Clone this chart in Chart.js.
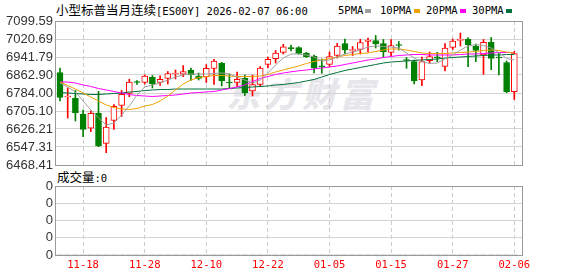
<!DOCTYPE html>
<html>
<head>
<meta charset="utf-8">
<script src="https://cdn.jsdelivr.net/npm/chart.js@4.4.1/dist/chart.umd.min.js"></script>
<style>
  body { margin:0; background:#fff; width:578px; height:276px; overflow:hidden; position:relative; }
  .abs  { position:absolute; white-space:nowrap; }
  .cn   { font-family:"Noto Sans CJK SC"; font-size:12.5px; }
  .mono { font-family:"DejaVu Sans Mono"; font-size:10.5px; }
  #title { left:56px; top:1px; line-height:18px; color:#000; }
  #voltitle { left:57px; top:168px; line-height:18px; color:#000; }
  .lg { top:1px; line-height:18px; color:#000; }
  .sq { display:inline-block; width:6px; height:4px; margin-left:2px; vertical-align:1px; }
  #wm { left:226px; top:68px; font-family:"Noto Sans CJK SC"; font-weight:900; font-size:34px;
        color:#e7e7eb; letter-spacing:4px; font-style:italic; }
  canvas { position:absolute; left:0; }
</style>
</head>
<body>
<div id="wm" class="abs">东方财富</div>
<div id="title" class="abs"><span class="cn">小型标普当月连续</span><span class="mono">[ES00Y] 2026-02-07 06:00</span></div>
<div id="legend"></div>
<div id="voltitle" class="abs"><span class="cn">成交量</span><span class="mono">:0</span></div>
<canvas id="cMain" width="578" height="180" style="top:0"></canvas>
<canvas id="cVol" width="578" height="100" style="top:176px"></canvas>

<script>
/* ── Datos ── */
const dates = ["11-13","11-14","11-17","11-18","11-19","11-20","11-21","11-24","11-25","11-26",
  "11-27","11-28","12-01","12-02","12-03","12-04","12-05","12-08","12-09","12-10",
  "12-11","12-12","12-15","12-16","12-17","12-18","12-19","12-22","12-23","12-24",
  "12-26","12-29","12-30","12-31","01-02","01-05","01-06","01-07","01-08","01-09",
  "01-12","01-13","01-14","01-15","01-16","01-19","01-20","01-21","01-22","01-23",
  "01-26","01-27","01-28","01-29","01-30","02-02","02-03","02-04","02-05","02-06"];

const open = [6873.9,6766.5,6760.8,6692.0,6629.3,6696.3,6563.5,6664.3,6729.2,6782.7,
  6832.2,6830.9,6852.8,6830.0,6848.4,6867.3,6866.0,6884.8,6858.5,6855.5,
  6891.4,6914.2,6832.2,6830.0,6848.4,6792.8,6822.1,6908.9,6934.3,6962.4,
  6979.9,6982.6,6958.0,6946.2,6900.2,6909.8,6948.4,7001.0,6969.0,6975.5,
  7009.7,7014.1,7000.1,6961.5,6994.4,6928.6,6921.2,6841.0,6925.6,6941.8,
  6901.0,6984.3,7014.1,7019.4,6990.0,6950.6,7006.2,6938.7,6916.8,6789.7];

const high = [6893.6,6805.9,6795.0,6709.5,6705.1,6791.5,6676.6,6733.6,6795.0,6844.1,
  6838.8,6862.9,6860.7,6859.8,6878.2,6884.8,6904.5,6893.6,6871.7,6908.1,
  6931.7,6918.6,6867.3,6876.1,6862.9,6862.9,6900.2,6941.8,6970.3,6997.5,
  6994.4,6986.9,6962.4,6950.6,6933.0,6963.7,7001.0,7020.7,6987.8,7019.4,
  7025.1,7036.0,7018.5,7018.5,7009.7,6939.6,6928.6,6941.8,6963.7,6962.4,
  7001.0,7020.7,7047.0,7027.3,6998.8,7018.5,7027.3,6959.3,6924.3,6965.9];

const low = [6748.9,6674.4,6661.3,6592.5,6614.4,6548.6,6522.3,6624.9,6681.0,6767.8,
  6821.3,6823.5,6805.9,6816.9,6823.5,6845.4,6855.5,6838.8,6841.0,6830.0,
  6821.3,6814.7,6803.7,6812.5,6773.0,6770.9,6812.5,6893.6,6915.5,6955.0,
  6968.1,6953.6,6939.6,6871.7,6870.4,6898.0,6937.4,6955.0,6948.4,6955.0,
  6963.7,6981.2,6939.6,6946.2,6972.5,6892.3,6823.5,6816.0,6915.5,6921.2,
  6881.3,6974.7,6990.0,6899.3,6921.2,6866.0,6886.1,6862.9,6785.3,6755.5];

const close = [6764.3,6770.9,6696.3,6624.9,6695.0,6551.7,6635.0,6725.7,6778.3,6832.2,
  6830.0,6858.5,6823.5,6844.1,6869.5,6868.6,6877.4,6862.9,6847.6,6892.3,
  6924.3,6836.6,6827.8,6844.1,6784.0,6821.3,6893.6,6931.7,6959.3,6986.9,
  6978.2,6958.0,6943.1,6893.6,6898.8,6943.1,6990.0,6972.5,6974.7,7005.4,
  7016.3,6998.8,6965.0,6992.2,6992.2,6926.5,6836.6,6921.2,6943.1,6938.7,
  6981.2,7011.9,7019.4,6994.4,6970.3,7006.2,6936.1,6937.4,6789.7,6957.1];

const ma5 = [6827.8,6810.3,6788.4,6748.9,6709.5,6674.4,6643.7,6652.5,6687.6,6727.0,
  6775.2,6810.3,6819.1,6827.8,6841.0,6854.1,6862.9,6867.3,6867.3,6867.3,
  6869.5,6871.7,6867.3,6854.1,6841.0,6827.8,6841.0,6871.7,6906.7,6937.4,
  6955.0,6955.0,6950.6,6941.8,6924.3,6928.6,6941.8,6955.0,6963.7,6972.5,
  6985.6,6990.0,6987.8,6985.6,6981.2,6959.3,6937.4,6922.1,6913.3,6915.5,
  6933.0,6950.6,6972.5,6990.0,6996.6,6992.2,6981.2,6961.5,6935.2,6928.6];

const ma10 = [6832.2,6816.9,6801.5,6784.0,6766.5,6748.9,6731.4,6720.5,6713.9,6711.7,
  6716.1,6727.0,6733.6,6748.9,6770.9,6797.1,6823.5,6841.0,6851.9,6856.3,
  6860.7,6860.7,6858.5,6856.3,6856.3,6856.3,6858.5,6865.1,6876.1,6884.8,
  6893.6,6902.4,6913.3,6922.1,6928.6,6935.2,6941.8,6948.4,6952.8,6957.1,
  6959.3,6965.9,6972.5,6976.9,6976.9,6972.5,6965.9,6959.3,6957.1,6957.1,
  6957.1,6959.3,6961.5,6963.7,6965.9,6970.3,6972.5,6970.3,6963.7,6959.3];

const ma20 = [6832.2,6832.2,6827.8,6819.1,6812.5,6803.7,6797.1,6790.6,6784.0,6777.4,
  6773.0,6770.9,6768.7,6770.9,6773.0,6775.2,6779.6,6784.0,6786.2,6788.4,
  6790.6,6797.1,6803.7,6810.3,6819.1,6834.4,6847.6,6856.3,6865.1,6871.7,
  6876.9,6881.3,6884.8,6889.2,6893.6,6898.0,6902.4,6908.9,6915.5,6922.1,
  6928.6,6933.0,6939.6,6944.0,6948.4,6950.6,6952.8,6952.8,6950.6,6950.6,
  6950.6,6950.6,6952.8,6955.0,6955.0,6957.1,6959.3,6961.5,6961.5,6961.5];

const ma30 = [6786.2,6784.0,6781.8,6779.6,6777.4,6777.4,6779.6,6781.8,6784.0,6788.4,
  6790.6,6795.0,6797.1,6799.3,6799.3,6801.5,6801.5,6801.5,6801.5,6801.5,
  6801.5,6801.5,6803.7,6805.9,6808.1,6810.3,6812.5,6814.7,6819.1,6821.3,
  6825.6,6830.0,6836.6,6843.2,6854.1,6865.1,6873.9,6882.6,6889.2,6895.8,
  6902.4,6908.9,6915.5,6919.9,6922.1,6924.3,6926.5,6928.6,6930.8,6933.0,
  6937.4,6939.6,6941.8,6944.0,6946.2,6948.4,6950.6,6950.6,6952.8,6952.8];

const volume = [0,0,0,0,0,0,0,0,0,0, 0,0,0,0,0,0,0,0,0,0, 0,0,0,0,0,0,0,0,0,0,
  0,0,0,0,0,0,0,0,0,0, 0,0,0,0,0,0,0,0,0,0, 0,0,0,0,0,0,0,0,0,0];

const yTicks   = [6468.41,6547.31,6626.21,6705.10,6784.00,6862.90,6941.79,7020.69,7099.59];
const volTicks = ["0","0","0","0","0"];
const xTicks   = ["11-18","11-28","12-10","12-22","01-05","01-15","01-27","02-06"];

const maNames  = ["5PMA","10PMA","20PMA","30PMA"];
const maColors = ["#a0a0a0","#f0a000","#ff00ff","#00703c"];
const maLeft   = [338, 380, 426, 472];

/* ── Estilo ── */
const RED = "#ff0000", GREEN = "#008000";
Chart.defaults.font.family = "'Liberation Sans', Arial, sans-serif";

const tickIdx = xTicks.map(t => dates.indexOf(t));
const up = close.map((c, i) => c >= open[i]);
const pts = arr => arr.map((v, i) => ({ x: i, y: v }));

/* ── Leyenda HTML ── */
maNames.forEach((n, k) => {
  const d = document.createElement("div");
  d.className = "abs lg mono";
  d.style.left = maLeft[k] + "px";
  d.innerHTML = `${n}<span class="sq" style="background:${maColors[k]}"></span>`;
  document.getElementById("legend").appendChild(d);
});

/* ── Marco gris alrededor del área ── */
const frame = {
  id: "frame",
  afterDraw(chart) {
    const a = chart.chartArea, c = chart.ctx;
    c.save();
    c.strokeStyle = "#999";
    c.lineWidth = 1;
    c.strokeRect(a.left + 0.5, a.top + 0.5, a.right - a.left, a.bottom - a.top);
    c.restore();
  }
};

function xScale(showLabels) {
  return {
    type: "linear", min: -0.65, max: 60, offset: false,
    grid: { color: "#cccccc", offset: false, drawTicks: false },
    border: { display: false, dash: [4, 3] },
    ticks: {
      display: showLabels, color: RED, padding: 4, maxRotation: 0, autoSkip: false,
      font: { family: "'DejaVu Sans Mono'", size: 10.5 },
      callback: v => dates[v],
    },
    afterBuildTicks: s => { s.ticks = tickIdx.map(v => ({ value: v })); },
    afterFit: s => { s.height = showLabels ? 21 : 0; },
  };
}

function yScale(min, max, tickVals, label) {
  return {
    min, max,
    grid: { color: "#d4d4d4", drawTicks: false },
    border: { display: false },
    ticks: { padding: 2, color: "#333", font: { size: 13 }, autoSkip: false, callback: label },
    afterBuildTicks: s => { s.ticks = tickVals.map(v => ({ value: v })); },
    afterFit: s => { s.width = 55; },
  };
}

/* ── Gráfica principal: velas + medias ── */
const lines = [ma5, ma10, ma20, ma30].map((arr, k) => ({
  type: "line", label: maNames[k], data: pts(arr),
  borderColor: maColors[k], borderWidth: 1, pointRadius: 0, tension: 0, order: 0,
}));

new Chart(document.getElementById("cMain"), {
  type: "bar",
  data: {
    datasets: [
      ...lines,
      { // cuerpos
        data: open.map((o, i) => ({ x: i, y: [o, close[i]] })),
        backgroundColor: up.map(u => u ? "#ffffff" : GREEN),
        borderColor: up.map(u => u ? RED : GREEN),
        borderWidth: 1, borderSkipped: false, barThickness: 6,
        minBarLength: 1, grouped: false, order: 1,
      },
      { // mechas
        data: low.map((l, i) => ({ x: i, y: [l, high[i]] })),
        backgroundColor: up.map(u => u ? RED : GREEN),
        borderWidth: 0, barThickness: 1, grouped: false, order: 2,
      },
    ],
  },
  options: {
    responsive: false, animation: false, events: [],
    layout: { padding: { left: 0, right: 56, top: 21, bottom: 15 }, autoPadding: false },
    plugins: { legend: { display: false }, tooltip: { enabled: false } },
    scales: {
      x: xScale(false),
      y: yScale(6468.41, 7099.59, yTicks, v => v.toFixed(2)),
    },
  },
  plugins: [frame],
});

/* ── Volumen ── */
new Chart(document.getElementById("cVol"), {
  type: "bar",
  data: { datasets: [{ data: pts(volume), backgroundColor: "#999", barThickness: 6, grouped: false }] },
  options: {
    responsive: false, animation: false, events: [],
    layout: { padding: { left: 0, right: 56, top: 10, bottom: 0 }, autoPadding: false },
    plugins: { legend: { display: false }, tooltip: { enabled: false } },
    scales: {
      x: xScale(true),
      y: yScale(0, 4, volTicks.map((t, i) => i), (v, i) => volTicks[i]),
    },
  },
  plugins: [frame],
});
</script>
</body>
</html>
